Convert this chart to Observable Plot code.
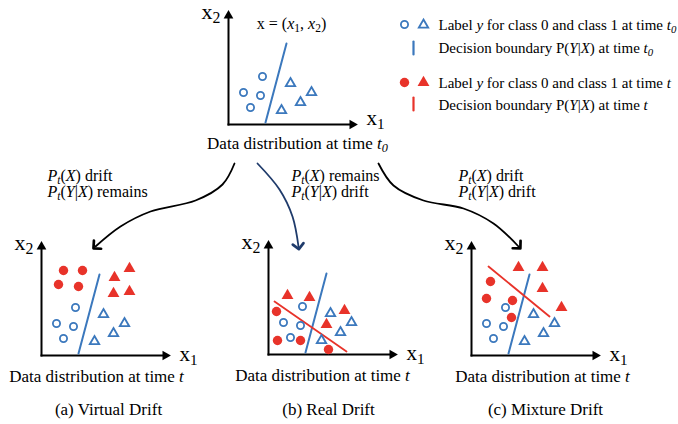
<!DOCTYPE html>
<html><head><meta charset="utf-8">
<script src="https://cdn.jsdelivr.net/npm/d3@7"></script>
<script src="https://cdn.jsdelivr.net/npm/@observablehq/plot@0.6"></script>
<style>body{margin:0;background:#fff}</style>
</head><body><div id="chart"></div>
<script>
// ---------- data (local feature-space coordinates: x1 to the right, x2 up) ----------
const blueCircles   = [[34,48],[15,32],[32,29],[22,17]];          // class 0 at t0
const blueTriangles = [[62,41],[83,32],[72,22],[53,14]];          // class 1 at t0
const boundaryT0    = [[37,2],[58,81]];                           // P(Y|X) at t0

const redCirclesA   = [[22,85],[41,85],[17,71],[37,69]];
const redTrianglesA = [[88,87],[73,78],[72,62],[88,64]];

const redCirclesB   = [[8,43],[9,14],[32,14],[60,5]];
const redTrianglesB = [[19,59],[41,57],[76,44],[58,30]];
const boundaryB     = [[6,53],[78,3]];

const redCirclesC   = [[19,74],[15,57],[41,55],[40,38]];
const redTrianglesC = [[47,88],[71,88],[71,67],[90,48]];
const boundaryC     = [[17,89],[78,39]];

// ---------- text ----------
const axisLabels   = ["x_1_", "x_2_"];
const topFormula   = "x = (*x*_1_, *x*_2_)";
const titleT0      = "Data distribution at time *t*_*0*_";
const titleT       = "Data distribution at time *t*";
const captions     = ["(a) Virtual Drift", "(b) Real Drift", "(c) Mixture Drift"];
const notesA       = ["*P*_*t*_(*X*) drift", "*P*_*t*_(*Y*|*X*) remains"];
const notesB       = ["*P*_*t*_(*X*) remains", "*P*_*t*_(*Y*|*X*) drift"];
const notesC       = ["*P*_*t*_(*X*) drift", "*P*_*t*_(*Y*|*X*) drift"];
const legendLabels = [
  "Label *y* for class 0 and class 1 at time *t*_*0*_",
  "Decision boundary P(*Y*|*X*) at time *t*_*0*_",
  "Label *y* for class 0 and class 1 at time *t*",
  "Decision boundary P(*Y*|*X*) at time *t*"
];

// ---------- layout ----------
const BLUE = "#3b78bd", RED = "#e8332a", NAVY = "#1f3b6b";
const FONT = "Liberation Serif";
const AX_X = 129, AX_Y = 114;
const panels = [
  {id:"t0", ox:228, oy:124, red:null, title:titleT0, cx:297, x1dy:0},
  {id:"a",  ox:41,  oy:355, red:{c:redCirclesA, t:redTrianglesA, b:null}, title:titleT, cx:96,  cap:captions[0], capx:108, notes:notesA, nx:47, x1dy:5},
  {id:"b",  ox:268, oy:354, red:{c:redCirclesB, t:redTrianglesB, b:boundaryB}, title:titleT, cx:322, cap:captions[1], capx:328, notes:notesB, nx:291, x1dy:5},
  {id:"c",  ox:471, oy:355, red:{c:redCirclesC, t:redTrianglesC, b:boundaryC}, title:titleT, cx:542, cap:captions[2], capx:545, notes:notesC, nx:458, x1dy:5}
];
const arrows = [
  {pts:[[234,163],[222,184],[195,200],[150,211],[120,226],[95,246]], color:"black"},
  {pts:[[257,163],[279,189],[292,216],[298,246]], color:NAVY},
  {pts:[[378,163],[393,185],[423,200],[463,208],[493,223],[518,246]], color:"black"}
];

const marks = [];
const T = (data, o) => Plot.text(data, {fontFamily: FONT, lineAnchor: "bottom", fill: "black", ...o});

for (const p of panels) {
  const c = {x: d => p.ox + d[0], y: d => p.oy - d[1]};
  // axes
  marks.push(Plot.line([[0,0],[0,AX_Y-6]], {...c, stroke:"black", strokeWidth:2, strokeLinecap:"square"}));
  marks.push(Plot.line([[0,0],[AX_X-6,0]], {...c, stroke:"black", strokeWidth:2, strokeLinecap:"square"}));
  marks.push(Plot.dot([[0,AX_Y-5.2]], {...c, symbol:"triangle", r:3.6, fill:"black"}));
  marks.push(Plot.dot([[AX_X-5.2,0]], {...c, symbol:"triangle", r:3.6, fill:"black", rotate:90}));
  marks.push(T([axisLabels[1]], {x: () => p.ox - 27, y: () => p.oy - 106, text: d => d, fontSize: 22, textAnchor: "start"}));
  marks.push(T([axisLabels[0]], {x: () => p.ox + 138, y: () => p.oy + p.x1dy, text: d => d, fontSize: 21, textAnchor: "start"}));
  // boundaries
  marks.push(Plot.line(boundaryT0, {...c, stroke:BLUE, strokeWidth:2}));
  if (p.red && p.red.b) marks.push(Plot.line(p.red.b, {...c, stroke:RED, strokeWidth:1.8}));
  // points
  marks.push(Plot.dot(blueCircles, {...c, r:3.6, stroke:BLUE, strokeWidth:1.8, fill:"none"}));
  marks.push(Plot.dot(blueTriangles, {...c, symbol:"triangle", r:3.5, stroke:BLUE, strokeWidth:1.8, fill:"none"}));
  if (p.red) {
    marks.push(Plot.dot(p.red.c, {...c, r:4.7, fill:RED}));
    marks.push(Plot.dot(p.red.t, {...c, symbol:"triangle", r:4.4, fill:RED}));
  }
  // titles
  marks.push(T([p.title], {x: () => p.cx, y: () => p.oy + (p.id === "t0" ? 24 : 26), text: d => d, fontSize: 17, textAnchor: "middle"}));
  if (p.cap) marks.push(T([p.cap], {x: () => p.capx, y: () => 414, text: d => d, fontSize: 17, textAnchor: "middle"}));
  if (p.notes) marks.push(T(p.notes, {x: () => p.nx, y: (d, i) => 180 + i * 16, text: d => d, fontSize: 16, textAnchor: "start"}));
}
marks.push(T([topFormula], {x: () => 291, y: () => 28, text: d => d, fontSize: 16, textAnchor: "middle"}));

// arrows between panels
for (const a of arrows) {
  marks.push(Plot.line(a.pts, {x: d => d[0], y: d => d[1], stroke: a.color, strokeWidth: 1.8, curve: "catmull-rom", markerEnd: "arrow"}));
}

// legend
const legY = [29, 52, 87, 109];
marks.push(Plot.dot([0], {x: () => 404, y: () => 24, r:3.6, stroke:BLUE, strokeWidth:1.8, fill:"none"}));
marks.push(Plot.dot([0], {x: () => 423, y: () => 24.5, symbol:"triangle", r:3.5, stroke:BLUE, strokeWidth:1.8, fill:"none"}));
marks.push(Plot.line([41, 54], {x: () => 413, y: d => d, stroke:BLUE, strokeWidth:2.2}));
marks.push(Plot.dot([0], {x: () => 404, y: () => 82, r:4.7, fill:RED}));
marks.push(Plot.dot([0], {x: () => 423, y: () => 82, symbol:"triangle", r:4.4, fill:RED}));
marks.push(Plot.line([97, 110], {x: () => 413, y: d => d, stroke:RED, strokeWidth:2.2}));
marks.push(T(legendLabels, {x: () => 438, y: (d, i) => legY[i], text: d => d, fontSize: 15, textAnchor: "start"}));

const svg = Plot.plot({
  width: 678, height: 424, margin: 0,
  x: {domain: [0, 678], axis: null},
  y: {domain: [424, 0], axis: null},
  style: {fontFamily: FONT, background: "white", overflow: "visible"},
  marks
});

// rich text: *italic*, _subscript_
const ns = "http://www.w3.org/2000/svg";
svg.querySelectorAll("text").forEach(t => {
  const s = t.textContent;
  if (!/[*_]/.test(s)) return;
  t.textContent = "";
  let it = false, sub = false, buf = "", prevSub = false;
  const flush = () => {
    if (!buf) return;
    const ts = document.createElementNS(ns, "tspan");
    if (it) ts.setAttribute("font-style", "italic");
    if (sub) { ts.setAttribute("font-size", "72%"); if (!prevSub) ts.setAttribute("dy", "0.3em"); }
    else if (prevSub) ts.setAttribute("dy", "-0.216em");
    ts.textContent = buf;
    t.appendChild(ts);
    prevSub = sub; buf = "";
  };
  for (const ch of s) {
    if (ch === "*") { flush(); it = !it; }
    else if (ch === "_") { flush(); sub = !sub; }
    else buf += ch;
  }
  flush();
});
// larger arrow heads
svg.querySelectorAll("marker").forEach(m => { m.setAttribute("markerWidth", 10); m.setAttribute("markerHeight", 10); });

document.getElementById("chart").appendChild(svg);
</script>
</body></html>
